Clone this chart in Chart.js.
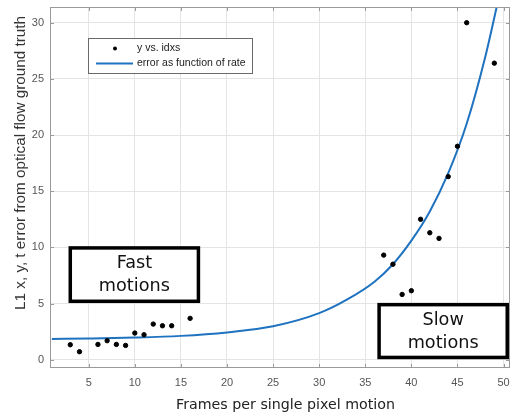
<!DOCTYPE html>
<html>
<head>
<meta charset="utf-8">
<script src="https://cdn.jsdelivr.net/npm/chart.js@4.4.1/dist/chart.umd.min.js"></script>
<style>
  body { margin: 0; background: #fff; }
</style>
</head>
<body>
<canvas id="chart" width="515" height="415"></canvas>
<script>
// measured samples
const idxs = [3, 4, 6, 7, 8, 9, 10, 11, 12, 13, 14, 16, 37, 38, 39, 40, 41, 42, 43, 44, 45, 46, 49];
const errs = [1.33, 0.71, 1.36, 1.69, 1.36, 1.27, 2.37, 2.22, 3.17, 3.02, 3.02, 3.68,
              9.31, 8.5, 5.81, 6.14, 12.5, 11.3, 10.8, 16.3, 19.0, 30.0, 26.4];

// fitted curve
const rateX = [1, 5, 10, 15, 20, 25, 30, 33, 36, 38, 40, 42, 44, 46, 48, 49.5];
const rateY = [1.85, 1.89, 1.97, 2.12, 2.43, 2.97, 4.14, 5.34, 6.94, 8.5, 10.6, 13.2, 16.6, 21.0, 26.9, 32.3];

const xTicks = [5, 10, 15, 20, 25, 30, 35, 40, 45, 50];
const yTicks = [0, 5, 10, 15, 20, 25, 30];

const legendLabels = ['y vs. idxs', 'error as function of rate'];
const xTitle = 'Frames per single pixel motion';
const yTitle = 'L1 x, y, t error from optical flow ground truth';

// text boxes placed in data units
const notes = [
  { lines: ['Fast', 'motions'], x0: 3, x1: 16.9, y0: 9.95, y1: 5.2 },
  { lines: ['Slow', 'motions'], x0: 36.5, x1: 50.4, y0: 4.9, y1: 0.2 }
];

const BLUE = '#1f72c0';

// shrink/grow a font so the text spans a given width
function fitFont(ctx, text, family, width) {
  ctx.font = '10px ' + family;
  const size = 10 * width / ctx.measureText(text).width;
  ctx.font = size.toFixed(2) + 'px ' + family;
}

const overlay = {
  id: 'overlay',
  afterDraw(chart) {
    const { ctx, chartArea: a, scales: { x, y } } = chart;
    ctx.save();

    // frame + inward ticks
    ctx.strokeStyle = '#9a9a9a';
    ctx.lineWidth = 1;
    ctx.strokeRect(a.left + 0.5, a.top + 0.5, a.right - a.left - 1, a.bottom - a.top - 1);
    ctx.beginPath();
    xTicks.forEach(v => {
      const px = Math.round(x.getPixelForValue(v)) + 0.5;
      ctx.moveTo(px, a.top); ctx.lineTo(px, a.top + 4);
      ctx.moveTo(px, a.bottom); ctx.lineTo(px, a.bottom - 4);
    });
    yTicks.forEach(v => {
      const py = Math.round(y.getPixelForValue(v)) + 0.5;
      ctx.moveTo(a.left, py); ctx.lineTo(a.left + 4, py);
      ctx.moveTo(a.right, py); ctx.lineTo(a.right - 4, py);
    });
    ctx.stroke();

    // legend
    ctx.fillStyle = '#fff';
    ctx.fillRect(88, 38, 164, 35);
    ctx.strokeStyle = '#6a6a6a';
    ctx.strokeRect(88.5, 38.5, 164, 35);
    ctx.fillStyle = '#000';
    ctx.beginPath(); ctx.arc(115, 48.5, 2, 0, Math.PI * 2); ctx.fill();
    ctx.strokeStyle = BLUE; ctx.lineWidth = 2;
    ctx.beginPath(); ctx.moveTo(96, 63.5); ctx.lineTo(133, 63.5); ctx.stroke();
    ctx.fillStyle = '#222';
    ctx.font = '10.5px "Liberation Sans", Arial, sans-serif';
    ctx.textBaseline = 'middle';
    ctx.textAlign = 'left';
    ctx.fillText(legendLabels[0], 137, 48.5);
    ctx.fillText(legendLabels[1], 137, 63.5);

    // note boxes
    notes.forEach(n => {
      const l = x.getPixelForValue(n.x0), r = x.getPixelForValue(n.x1);
      const t = y.getPixelForValue(n.y0), b = y.getPixelForValue(n.y1);
      ctx.fillStyle = '#fff';
      ctx.fillRect(l, t, r - l, b - t);
      ctx.strokeStyle = '#000'; ctx.lineWidth = 3.5;
      ctx.strokeRect(l, t, r - l, b - t);
      ctx.fillStyle = '#111';
      fitFont(ctx, n.lines[1], '"DejaVu Sans", Verdana, sans-serif', 71);
      ctx.textAlign = 'center';
      const cx = (l + r) / 2, cy = (t + b) / 2;
      ctx.fillText(n.lines[0], cx, cy - 11);
      ctx.fillText(n.lines[1], cx, cy + 12);
    });

    // axis titles
    ctx.fillStyle = '#222';
    ctx.textAlign = 'center';
    fitFont(ctx, xTitle, '"DejaVu Sans", Verdana, sans-serif', 219);
    ctx.fillText(xTitle, 285.5, 405);
    ctx.translate(21, 163);
    ctx.rotate(-Math.PI / 2);
    ctx.fillStyle = '#333';
    fitFont(ctx, yTitle, '"Liberation Sans", Arial, sans-serif', 294);
    ctx.fillText(yTitle, 0, 0);
    ctx.restore();
  }
};

new Chart(document.getElementById('chart'), {
  type: 'scatter',
  data: {
    datasets: [
      {
        label: legendLabels[0],
        data: idxs.map((v, i) => ({ x: v, y: errs[i] })),
        backgroundColor: '#000',
        borderColor: '#000',
        pointRadius: 2.2,
        order: 1
      },
      {
        label: legendLabels[1],
        data: rateX.map((v, i) => ({ x: v, y: rateY[i] })),
        showLine: true,
        borderColor: BLUE,
        borderWidth: 2,
        pointRadius: 0,
        cubicInterpolationMode: 'monotone',
        order: 2
      }
    ]
  },
  options: {
    responsive: false,
    animation: false,
    events: [],
    layout: { padding: { top: 7, right: 3, left: 0, bottom: 0 } },
    plugins: { legend: { display: false }, tooltip: { enabled: false } },
    scales: {
      x: {
        min: 0.8, max: 50.7,
        afterFit: s => { s.height = 47; s.paddingLeft = 0; s.paddingRight = 0; },
        afterBuildTicks: s => { s.ticks = xTicks.map(v => ({ value: v })); },
        grid: { color: '#e4e4e4', drawTicks: false },
        border: { display: false },
        ticks: { padding: 8, color: '#555', font: { family: '"Liberation Sans", Arial', size: 11 } }
      },
      y: {
        min: -0.74, max: 31.4,
        afterFit: s => { s.width = 50; s.paddingTop = 0; s.paddingBottom = 0; },
        afterBuildTicks: s => { s.ticks = yTicks.map(v => ({ value: v })); },
        grid: { color: '#e4e4e4', drawTicks: false },
        border: { display: false },
        ticks: { padding: 6, color: '#555', font: { family: '"Liberation Sans", Arial', size: 11 } }
      }
    }
  },
  plugins: [overlay]
});
</script>
</body>
</html>
